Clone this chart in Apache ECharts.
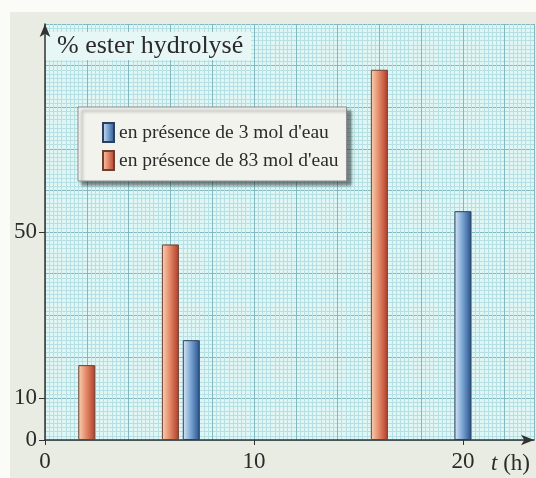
<!DOCTYPE html>
<html><head><meta charset="utf-8">
<script src="https://cdn.jsdelivr.net/npm/echarts@6/dist/echarts.min.js"></script>
<style>html,body{margin:0;padding:0;background:#fff}#c{width:536px;height:478px}</style>
</head><body><div id="c"></div>
<script>
const seriesNames = ["en présence de 3 mol d'eau", "en présence de 83 mol d'eau"];
const times3 = [7, 20];
const values3 = [24, 55];
const times83 = [2, 6, 16];
const values83 = [18, 47, 89];
const xTickLabels = [0, 10, 20];
const yTickLabels = [0, 10, 50];

const SERIF = "Liberation Serif";
const INK = '#2b2b2b';
const chart = echarts.init(document.getElementById('c'), null, {renderer: 'canvas'});

const redGrad = new echarts.graphic.LinearGradient(0, 0, 1, 0, [
  {offset: 0, color: '#f8d3b4'}, {offset: 0.45, color: '#e48c6c'}, {offset: 1, color: '#b23a26'}]);
const blueGrad = new echarts.graphic.LinearGradient(0, 0, 1, 0, [
  {offset: 0, color: '#d9e8f6'}, {offset: 0.45, color: '#7ea8d4'}, {offset: 1, color: '#23508c'}]);

const paperAxisX = {
  type: 'value', min: 0, max: 23.4, interval: 2, position: 'bottom',
  axisLine: {show: false}, axisTick: {show: false}, axisLabel: {show: false},
  splitLine: {show: true, lineStyle: {color: '#82b8c0', width: 1}},
  minorTick: {show: false, splitNumber: 10},
  minorSplitLine: {show: true, lineStyle: {color: '#b6e0e3', width: 1}}
};
const paperAxisY = {
  type: 'value', min: 0, max: 100, interval: 10, position: 'left',
  axisLine: {show: false}, axisTick: {show: false}, axisLabel: {show: false},
  splitLine: {show: true, lineStyle: {color: '#82b8c0', width: 1}},
  minorTick: {show: false, splitNumber: 10},
  minorSplitLine: {show: true, lineStyle: {color: '#b6e0e3', width: 1}}
};

chart.setOption({
  backgroundColor: '#e9ece2',
  animation: false,
  graphic: [
    {type: 'rect', shape: {x: 0, y: 0, width: 536, height: 12}, style: {fill: '#fbfcf8'}, silent: true},
    {type: 'rect', shape: {x: 0, y: 0, width: 10, height: 478}, style: {fill: '#fbfcf8'}, silent: true}
  ],
  grid: {left: 45, top: 24, right: 2, bottom: 38, show: true, backgroundColor: '#e0f6f5', borderWidth: 0},
  legend: {
    data: seriesNames, left: 78, top: 107, orient: 'vertical', icon: 'rect',
    itemWidth: 11, itemHeight: 19, itemGap: 7, padding: [15, 8, 10, 24],
    backgroundColor: '#f3f3ee', borderColor: '#8a8a8a', borderWidth: 1,
    shadowColor: 'rgba(0,0,0,0.45)', shadowBlur: 3, shadowOffsetX: 4, shadowOffsetY: 4,
    textStyle: {fontFamily: SERIF, fontSize: 19.5, color: INK}
  },
  xAxis: [paperAxisX, {
    type: 'value', min: 0, max: 23.4, interval: 10, position: 'bottom',
    name: '{i|t} (h)', nameLocation: 'end', nameGap: -43,
    nameTextStyle: {fontFamily: SERIF, fontSize: 23, color: INK, align: 'left', verticalAlign: 'top', padding: [12, 0, 0, 0],
      rich: {i: {fontFamily: SERIF, fontSize: 23, fontStyle: 'italic', color: INK}}},
    axisLine: {show: true, lineStyle: {color: '#333', width: 1.5}, symbol: ['none', 'arrow'], symbolSize: [8, 13]},
    axisTick: {show: true, length: 5, lineStyle: {color: '#333'}, customValues: xTickLabels},
    axisLabel: {fontFamily: SERIF, fontSize: 23, color: INK, margin: 10, customValues: xTickLabels,
      formatter: v => xTickLabels.includes(v) ? String(v) : ''},
    splitLine: {show: false}
  }],
  yAxis: [paperAxisY, {
    type: 'value', min: 0, max: 100, interval: 10, position: 'left',
    name: '% ester hydrolysé', nameLocation: 'end', nameGap: -22,
    nameTextStyle: {fontFamily: SERIF, fontSize: 26, color: INK, align: 'left', verticalAlign: 'middle',
      padding: [1, 8, 1, 12], backgroundColor: '#e6f7f5'},
    axisLine: {show: true, lineStyle: {color: '#333', width: 1.5}, symbol: ['none', 'arrow'], symbolSize: [8, 13]},
    axisTick: {show: true, length: 6, lineStyle: {color: '#333'}, customValues: yTickLabels},
    axisLabel: {fontFamily: SERIF, fontSize: 23, color: INK, margin: 8, customValues: yTickLabels,
      formatter: v => yTickLabels.includes(v) ? String(v) : ''},
    splitLine: {show: false}
  }],
  series: [
    {name: seriesNames[0], type: 'bar', xAxisIndex: 1, yAxisIndex: 1, barWidth: 17, barGap: '-100%',
      itemStyle: {color: blueGrad, borderColor: '#2d3f5c', borderWidth: 1},
      data: times3.map((t, i) => [t, values3[i]])},
    {name: seriesNames[1], type: 'bar', xAxisIndex: 1, yAxisIndex: 1, barWidth: 17, barGap: '-100%',
      itemStyle: {color: redGrad, borderColor: '#6e4034', borderWidth: 1},
      data: times83.map((t, i) => [t, values83[i]])}
  ]
});
</script></body></html>
